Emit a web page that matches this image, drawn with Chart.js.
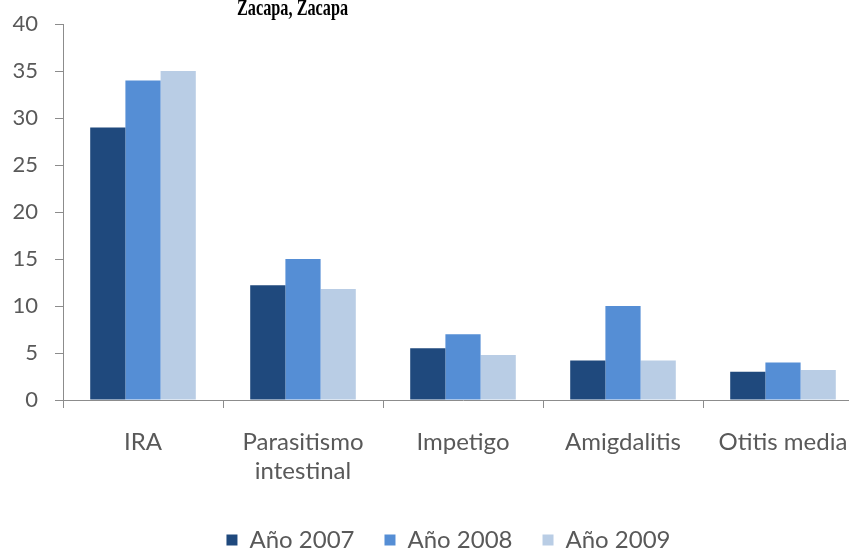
<!DOCTYPE html>
<html>
<head>
<meta charset="utf-8">
<script src="https://cdn.jsdelivr.net/npm/chart.js@4"></script>
<style>
  html, body { margin: 0; padding: 0; background: #fff; }
  #wrap { position: relative; width: 849px; height: 550px; overflow: hidden; }
  #box { position: absolute; left: 0; top: 0; width: 880px; height: 562px; }
  #titulo {
    position: absolute; left: 237px; top: -4px;
    font: bold 23px/23px "Liberation Serif", serif; color: #000;
    transform: scaleX(0.707); transform-origin: left top; white-space: nowrap;
  }
</style>
</head>
<body>
<div id="wrap">
  <div id="box"><canvas id="grafica"></canvas></div>
  <div id="titulo">Zacapa, Zacapa</div>
</div>
<script>
const categorias = ['IRA', ['Parasitismo', 'intestinal'], 'Impetigo', 'Amigdalitis', 'Otitis media'];
const anio2007 = [29, 12.2, 5.5, 4.2, 3];
const anio2008 = [34, 15, 7, 10, 4];
const anio2009 = [35, 11.8, 4.8, 4.2, 3.2];
const etiquetas = ['Año 2007', 'Año 2008', 'Año 2009'];
const colores = ['#1f497d', '#558ed5', '#b9cde5'];

const fuente = { family: 'Lato, "Open Sans", sans-serif', size: 24 };
const gris = '#595959';
const linea = '#8c8c8c';

const series = [anio2007, anio2008, anio2009];

// la leyenda va un poco a la derecha del centro
const moverLeyenda = {
  id: 'moverLeyenda',
  afterLayout(chart) {
    chart.legend.left += 17;
    chart.legend.right += 17;
  }
};

new Chart(document.getElementById('grafica').getContext('2d'), {
  type: 'bar',
  data: {
    labels: categorias,
    datasets: series.map((valores, i) => ({
      label: etiquetas[i],
      data: valores,
      backgroundColor: colores[i],
      borderWidth: 0,
      categoryPercentage: 0.66,
      barPercentage: 1
    }))
  },
  options: {
    responsive: true,
    maintainAspectRatio: false,
    animation: false,
    layout: { padding: { top: 24, right: 17, left: 0, bottom: 0 } },
    plugins: {
      title: { display: false },
      tooltip: { enabled: false },
      legend: {
        position: 'bottom',
        labels: {
          boxWidth: 11, boxHeight: 11,
          padding: 30,
          color: gris,
          font: fuente
        }
      }
    },
    scales: {
      x: {
        afterFit: s => { s.height = 98; },
        grid: { drawOnChartArea: false, drawTicks: true, tickLength: 8, color: linea, offset: true },
        border: { color: linea, width: 1 },
        ticks: { color: gris, font: { ...fuente, lineHeight: 1.2 }, padding: 20, maxRotation: 0, autoSkip: false }
      },
      y: {
        min: 0, max: 40,
        afterFit: s => { s.width = 63; s.paddingTop = 0; s.paddingBottom = 0; },
        grid: { drawOnChartArea: false, drawTicks: true, tickLength: 8, color: linea },
        border: { color: linea, width: 1 },
        ticks: { stepSize: 5, color: gris, font: { ...fuente, size: 22 }, padding: 17 }
      }
    }
  },
  plugins: [moverLeyenda]
});
</script>
</body>
</html>
